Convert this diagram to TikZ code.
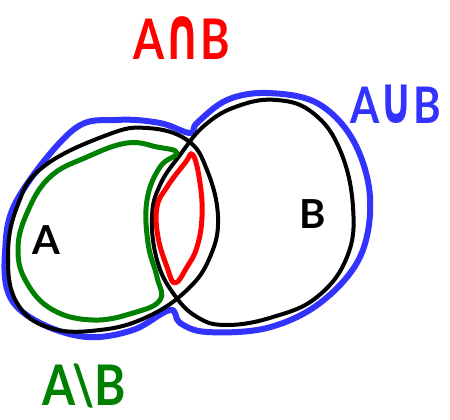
\documentclass[tikz,border=0pt]{standalone}
\usepackage{fontspec}
\usepackage{graphicx}
\setmainfont{Lato}
\newfontfamily\symfont{DejaVu Sans}
\definecolor{unionblue}{RGB}{51,51,255}
\definecolor{diffgreen}{RGB}{0,128,0}
% tall, narrow set symbol matching the letter height
\newcommand{\tallsym}[1]{\scalebox{0.75}[1]{\fontsize{74}{74}\symfont #1}}
\tikzset{
  pen/.style={line width=#1, line cap=round, line join=round},
  setline/.style={pen=4pt, black},
  unionline/.style={pen=6pt, unionblue},
  diffline/.style={pen=5pt, diffgreen},
  capline/.style={pen=5pt, red},
  hand/.style={inner sep=0pt, font=\fontsize{56}{56}\selectfont\bfseries},
  small hand/.style={inner sep=0pt, font=\fontsize{40}{40}\selectfont\bfseries},
}
\begin{document}
\begin{tikzpicture}[x=1pt, y=-1pt]
\useasboundingbox (0,0) rectangle (450,420);

% union outline
\draw[unionline] plot[smooth cycle, tension=0.6] coordinates {
  (73,130) (117,120) (160,123) (190,133) (197,123) (227,100) (267,93)
  (317,103) (353,140) (370,197) (360,257) (320,303) (267,328) (207,332)
  (180,323) (170,310) (133,330) (87,337) (40,323) (10,297) (5,253) (17,200)};

% set A
\draw[setline] plot[smooth cycle, tension=0.7] coordinates {
  (107,135) (147,128) (187,140) (207,170) (218,217) (210,257) (187,290)
  (147,317) (100,330) (50,328) (17,303) (8,257) (17,207) (43,167)};

% set B
\draw[setline] plot[smooth cycle, tension=0.7] coordinates {
  (238,106) (205,125) (180,155) (160,185) (152,217) (157,260) (173,293)
  (197,317) (227,325) (273,317) (317,297) (347,257) (353,207) (340,150)
  (313,113) (277,100)};

% A minus B
\draw[diffline] plot[smooth cycle, tension=0.7] coordinates {
  (177,153) (157,147) (127,143) (87,157) (50,177) (27,213) (18,250)
  (27,283) (53,310) (93,320) (133,313) (160,300) (157,277) (148,243)
  (147,200) (160,167)};

% A intersect B
\draw[capline] plot[smooth cycle, tension=0.7] coordinates {
  (193,155) (200,183) (202,217) (197,247) (187,267) (175,283) (167,267)
  (158,237) (157,207) (167,187) (185,163)};

% labels
\node[small hand] (la) at (46,240) {A};
\node[small hand] (lb) at (313,214) {B};
\node[hand, red, xscale=0.8] (cap) at (182,38) {A\tallsym{∩}B};
\node[hand, unionblue, xscale=0.75, yscale=0.9] (cup) at (396,104) {A\tallsym{∪}B};
\node[hand, diffgreen, xscale=0.85] (diff) at (84,386) {A\textbackslash B};
\end{tikzpicture}
\end{document}
